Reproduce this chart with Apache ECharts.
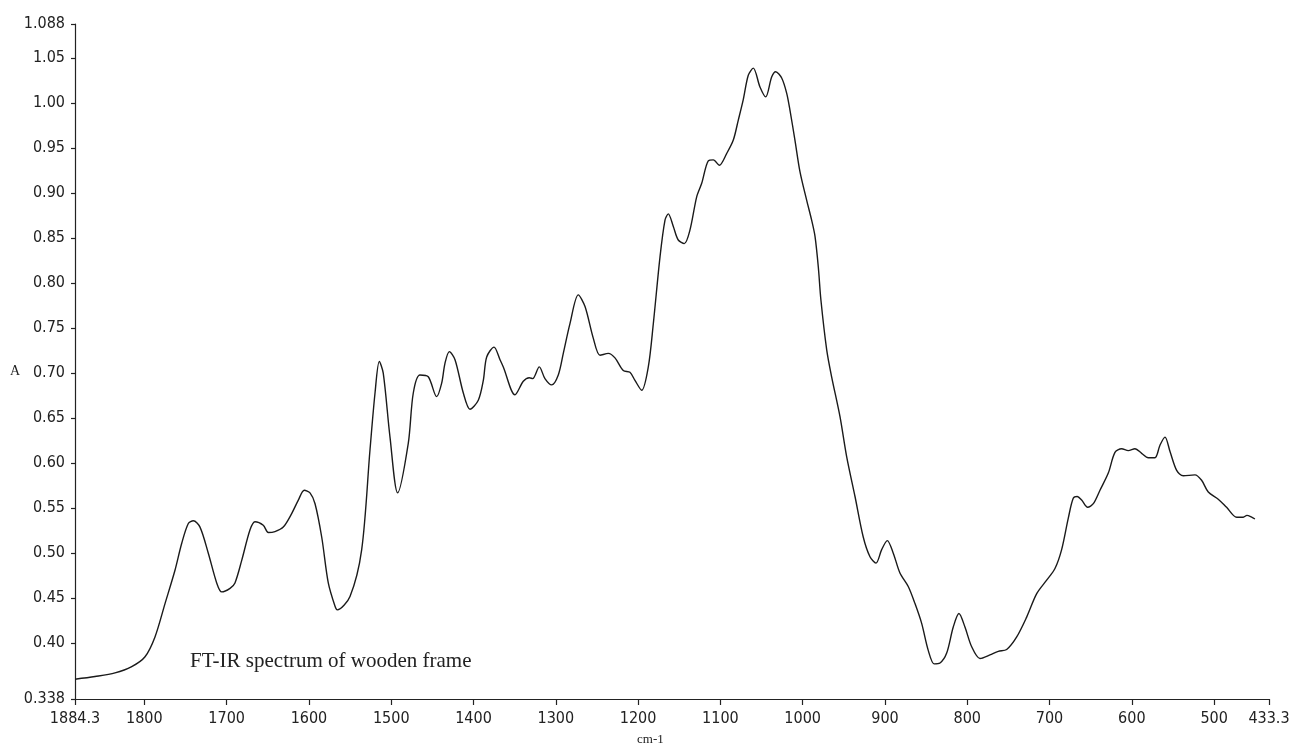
<!DOCTYPE html>
<html>
<head>
<meta charset="utf-8">
<script src="https://cdn.jsdelivr.net/npm/echarts@6/dist/echarts.min.js"></script>
<style>
html,body{margin:0;padding:0;background:#fff;}
#chart{width:1300px;height:749px;}
</style>
</head>
<body>
<div id="chart"></div>
<script>
// Wavenumber (cm-1) and absorbance
var wavenumber = [
1884.3,1860.0,1835.7,1815.4,1799.2,1787.1,1774.9,1762.8,1754.6,1746.6,
1740.5,1732.4,1722.3,1712.1,1706.0,1695.9,1689.9,1681.7,1671.6,1665.6,
1655.5,1649.4,1641.3,1631.2,1621.0,1612.9,1605.7,1598.7,1592.6,1584.5,
1576.5,1568.3,1565.6,1550.1,1535.9,1525.8,1519.7,1514.5,1509.7,1501.5,
1492.2,1479.3,1473.2,1465.1,1455.0,1444.8,1438.7,1434.7,1429.4,1422.5,
1412.4,1404.3,1394.2,1388.1,1384.0,1375.1,1367.8,1363.8,1349.6,1339.5,
1332.2,1328.1,1320.1,1313.2,1305.0,1297.0,1290.9,1282.8,1272.7,1264.5,
1254.5,1246.3,1236.2,1228.1,1218.0,1209.9,1203.8,1195.6,1187.6,1181.5,
1173.4,1167.3,1163.3,1157.2,1151.2,1143.9,1137.0,1128.8,1122.7,1114.7,
1108.6,1101.3,1092.4,1084.3,1078.3,1072.2,1066.1,1060.0,1051.9,1044.9,
1037.7,1032.8,1025.5,1019.4,1015.4,1009.4,1003.3,995.1,989.1,985.0,
981.0,977.8,970.8,964.8,954.7,946.5,936.4,926.4,918.2,910.9,
904.0,897.2,889.9,881.8,871.7,863.5,855.4,847.4,840.1,833.1,
825.0,817.0,810.1,802.8,794.6,784.5,772.4,762.3,752.1,739.9,
727.8,715.6,703.5,693.4,685.3,677.2,671.2,666.3,661.0,653.7,
646.8,638.7,628.6,620.5,612.4,604.3,596.2,588.1,580.0,571.9,
565.8,559.7,553.6,545.5,537.5,523.3,515.2,507.1,495.0,484.8,
472.6,464.6,460.1,454.4,450.4
];
var absorbance = [
0.360,0.363,0.367,0.374,0.385,0.407,0.444,0.481,0.511,0.533,
0.536,0.529,0.500,0.467,0.457,0.461,0.467,0.492,0.526,0.535,
0.531,0.523,0.524,0.529,0.544,0.559,0.570,0.567,0.555,0.518,
0.467,0.441,0.437,0.452,0.504,0.615,0.678,0.713,0.700,0.629,
0.567,0.622,0.678,0.698,0.696,0.674,0.689,0.711,0.724,0.715,
0.678,0.660,0.670,0.692,0.718,0.729,0.715,0.707,0.676,0.691,
0.695,0.694,0.707,0.694,0.687,0.698,0.722,0.755,0.787,0.774,
0.739,0.720,0.722,0.717,0.703,0.701,0.692,0.681,0.707,0.755,
0.829,0.870,0.877,0.863,0.848,0.844,0.859,0.896,0.911,0.936,
0.937,0.931,0.944,0.959,0.981,1.004,1.031,1.039,1.018,1.007,
1.029,1.035,1.028,1.011,0.992,0.959,0.924,0.892,0.870,0.852,
0.818,0.781,0.726,0.696,0.652,0.607,0.563,0.518,0.496,0.489,
0.504,0.514,0.500,0.478,0.463,0.444,0.422,0.392,0.377,0.378,
0.389,0.418,0.433,0.418,0.396,0.383,0.387,0.391,0.393,0.407,
0.429,0.455,0.470,0.483,0.504,0.539,0.561,0.563,0.559,0.551,
0.555,0.570,0.589,0.612,0.616,0.614,0.616,0.611,0.606,0.606,
0.620,0.629,0.613,0.592,0.586,0.587,0.581,0.568,0.560,0.551,
0.540,0.540,0.542,0.540,0.538
];
var xTicks = [1884.3,1800,1700,1600,1500,1400,1300,1200,1100,1000,900,800,700,600,500,433.3];
var yTicks = [0.338,0.40,0.45,0.50,0.55,0.60,0.65,0.70,0.75,0.80,0.85,0.90,0.95,1.00,1.05,1.088];
var chartTitle = 'FT-IR spectrum of wooden frame';
var xName = 'cm-1';
var yName = 'A';

var points = wavenumber.map(function (w, i) { return [w, absorbance[i]]; });
var labelFont = "'Liberation Sans Narrow','DejaVu Sans Condensed','Liberation Sans',sans-serif";

var chart = echarts.init(document.getElementById('chart'), null, {renderer: 'canvas'});
chart.setOption({
  animation: false,
  backgroundColor: '#ffffff',
  grid: {left: 75, right: 31, top: 24, bottom: 50},
  xAxis: {
    type: 'value',
    inverse: true,
    min: 433.3,
    max: 1884.3,
    axisLine: {show: true, lineStyle: {color: '#222', width: 1.2}},
    axisTick: {show: true, inside: false, length: 6, customValues: xTicks, lineStyle: {color: '#222', width: 1.2}},
    axisLabel: {
      customValues: xTicks, margin: 12, color: '#222',
      fontFamily: labelFont, fontSize: 16,
      formatter: function (v) { return String(v); }
    },
    splitLine: {show: false}
  },
  yAxis: {
    type: 'value',
    min: 0.338,
    max: 1.088,
    axisLine: {show: true, lineStyle: {color: '#222', width: 1.2}},
    axisTick: {show: true, inside: false, length: 4, customValues: yTicks, lineStyle: {color: '#222', width: 1.2}},
    axisLabel: {
      customValues: yTicks, margin: 10, color: '#222',
      fontFamily: labelFont, fontSize: 16,
      formatter: function (v) {
        var r = Math.round(v * 1000);
        return (r % 10 !== 0) ? (r / 1000).toFixed(3) : v.toFixed(2);
      }
    },
    splitLine: {show: false}
  },
  graphic: [
    {type: 'text', left: 190, top: 651, style: {text: chartTitle, fill: '#222', font: "21px 'Liberation Serif', serif"}},
    {type: 'text', left: 637, top: 733, style: {text: xName, fill: '#222', font: "13px 'Liberation Serif', serif"}},
    {type: 'text', left: 10, top: 364, style: {text: yName, fill: '#222', font: "14px 'Liberation Serif', serif"}}
  ],
  series: [{
    type: 'line',
    data: points,
    showSymbol: false,
    smooth: 0.3,
    lineStyle: {color: '#1a1a1a', width: 1.4}
  }]
});
</script>
</body>
</html>
